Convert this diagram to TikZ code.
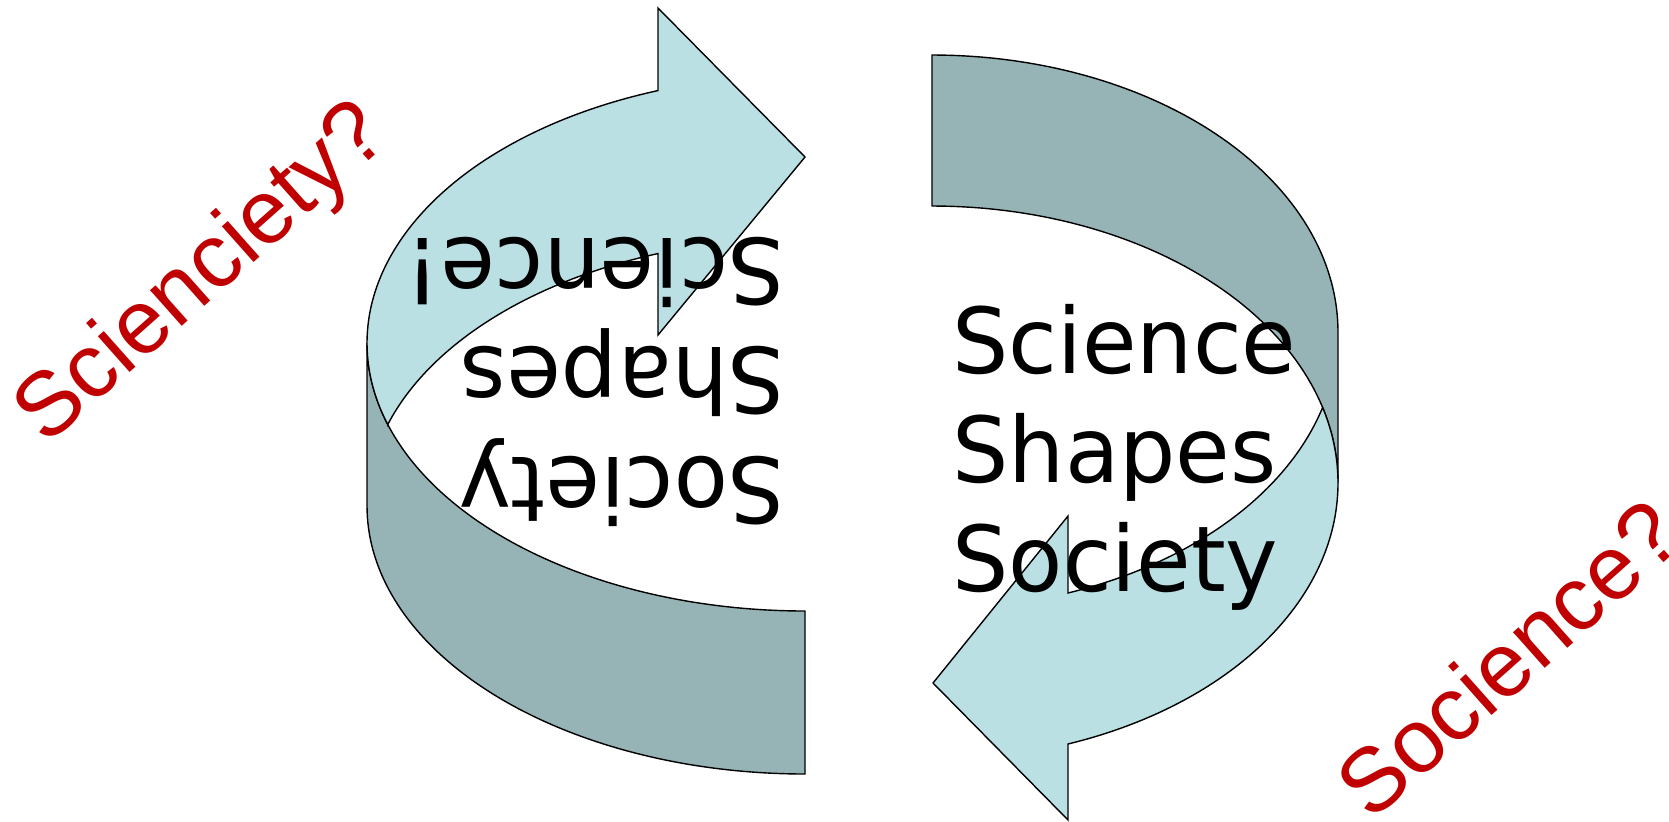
\documentclass[tikz,border=0pt]{standalone}
\usepackage{fontspec}
\newfontfamily\dejavu[FakeStretch=0.975]{DejaVu Sans}
\newfontfamily\arialx{Liberation Sans}
\definecolor{lightface}{RGB}{186,224,227}
\definecolor{darkface}{RGB}{150,180,182}
\definecolor{redtext}{RGB}{192,0,0}
\begin{document}
\begin{tikzpicture}[x=0.5pt,y=-0.5pt,
  lightarrow/.style={fill=lightface,draw=black,line width=0.7pt},
  darkband/.style={fill=darkface,draw=black,line width=0.7pt},
  maintext/.style={inner sep=0pt,anchor=base west,font=\dejavu\fontsize{45.5pt}{54pt}\selectfont},
  redlabel/.style={inner sep=0pt,anchor=base west,text=redtext,rotate=41.6,font=\arialx\fontsize{45.2pt}{54pt}\selectfont}]
\useasboundingbox (0,0) rectangle (1669,821);
% left structure
\path[darkband] plot[domain=180:90,samples=80] ({805+438*cos(\x)},{343+268*sin(\x)})
  -- plot[domain=90:180,samples=80] ({805+438*cos(\x)},{506+268*sin(\x)}) -- cycle;
\path[lightarrow] plot[domain=180:250.39,samples=80] ({805+438*cos(\x)},{343+268*sin(\x)})
  -- (658,8) -- (805,157) -- (658,335)
  -- plot[domain=250.39:197.70,samples=60] ({805+438*cos(\x)},{506+268*sin(\x)})
  -- plot[domain=162.30:180,samples=20] ({805+438*cos(\x)},{343+268*sin(\x)}) -- cycle;
% right structure
\path[darkband] plot[domain=270:360,samples=80] ({932+406*cos(\x)},{332+277*sin(\x)})
  -- plot[domain=360:270,samples=80] ({932+406*cos(\x)},{483+277*sin(\x)}) -- cycle;
\path[lightarrow] plot[domain=0:70.43,samples=80] ({932+406*cos(\x)},{483+277*sin(\x)})
  -- (1068,820) -- (933,683) -- (1068,516)
  -- plot[domain=70.43:15.82,samples=60] ({932+406*cos(\x)},{332+277*sin(\x)})
  -- plot[domain=344.18:360,samples=20] ({932+406*cos(\x)},{483+277*sin(\x)}) -- cycle;
% texts
\node[maintext] (r1) at (952,373) {Science};
\node[maintext] (r2) at (952,482) {Shapes};
\node[maintext] (r3) at (952,591) {Society};
\node[maintext,rotate=180] (l1) at (785,238) {Science!};
\node[maintext,rotate=180] (l2) at (785,347) {Shapes};
\node[maintext,rotate=180] (l3) at (785,457) {Society};
\node[redlabel] (q1) at (46,447) {Scienciety?};
\node[redlabel] (q2) at (1371,823) {Socience?};
\end{tikzpicture}
\end{document}
